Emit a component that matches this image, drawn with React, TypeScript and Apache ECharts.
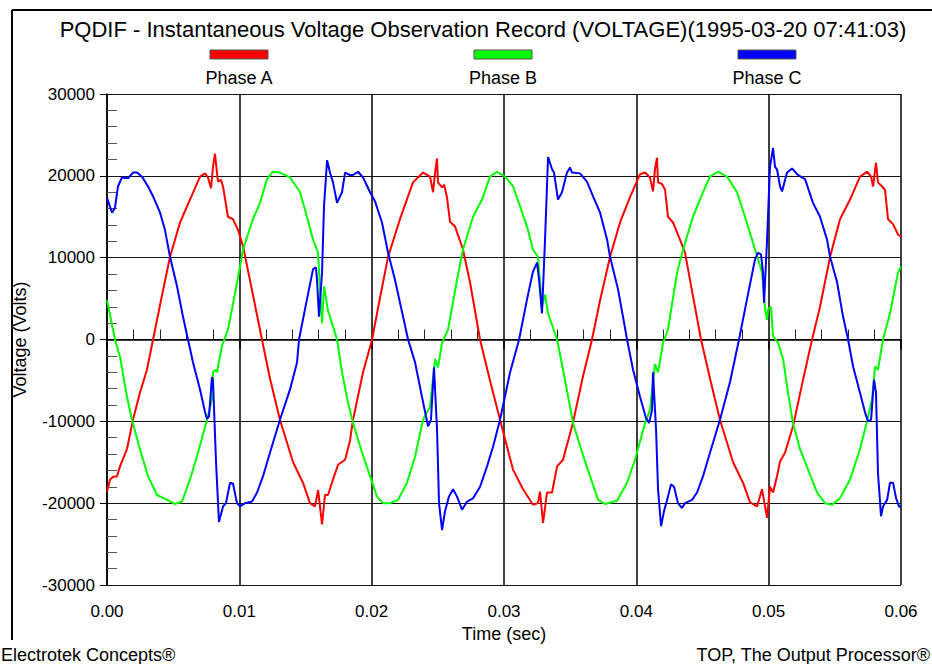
import React, { useEffect, useRef } from "react";
import * as echarts from "echarts";

const titleText = "PQDIF - Instantaneous Voltage Observation Record (VOLTAGE)(1995-03-20 07:41:03)";
const seriesNames = ["Phase A", "Phase B", "Phase C"];
const seriesColors = ["#ff0000", "#00ff00", "#0000ff"];
const xTicks = [0, 0.01, 0.02, 0.03, 0.04, 0.05, 0.06];
const yTicks = [-30000, -20000, -10000, 0, 10000, 20000, 30000];

const phaseA: [number, number][] = [
  [0, -18600], [0.00023, -17100], [0.00045, -16800], [0.00076, -16700], [0.00098, -15500],
  [0.00151, -13400], [0.00196, -9800], [0.00249, -6500], [0.00302, -3700], [0.00348, 0],
  [0.00408, 4800], [0.00476, 10100], [0.00552, 14300], [0.00627, 17100], [0.00703, 19900],
  [0.00741, 20300], [0.00763, 19800], [0.00786, 18500], [0.00801, 21100], [0.00816, 22700],
  [0.00831, 20400], [0.00839, 19300], [0.00861, 19500], [0.00877, 18700], [0.00914, 15000],
  [0.00952, 14700], [0.0099, 13400], [0.01028, 11400], [0.01081, 7200], [0.01171, 0],
  [0.01232, -4800], [0.01307, -9800], [0.01406, -15000], [0.01481, -17500], [0.01534, -20000],
  [0.01572, -20400], [0.01595, -18400], [0.01625, -22600], [0.01647, -19000], [0.0167, -19000],
  [0.01708, -17100], [0.01746, -15300], [0.01799, -14700], [0.01836, -12400], [0.01859, -9800],
  [0.01935, -4000], [0.02003, 0], [0.02063, 5100], [0.02124, 10100], [0.02214, 14700],
  [0.02312, 19200], [0.02388, 20400], [0.02441, 19900], [0.02464, 18000], [0.02479, 20400],
  [0.02494, 22100], [0.02501, 19200], [0.02532, 18600], [0.02547, 18900], [0.02569, 17400],
  [0.02592, 14400], [0.0263, 13800], [0.0269, 11000], [0.02743, 7000], [0.02819, 0],
  [0.02894, -5000], [0.0297, -9800], [0.03068, -15900], [0.03144, -18300], [0.03219, -20200],
  [0.03257, -20000], [0.03272, -18600], [0.03295, -22400], [0.03325, -18700], [0.03363, -18700],
  [0.03401, -15500], [0.03446, -14700], [0.03522, -10100], [0.03597, -4500], [0.03665, 0],
  [0.03726, 4800], [0.03801, 10100], [0.03877, 14300], [0.03952, 17400], [0.04028, 20200],
  [0.04066, 20400], [0.04103, 19800], [0.04126, 18100], [0.04141, 20800], [0.04156, 22200],
  [0.04164, 19200], [0.04194, 19000], [0.04217, 18300], [0.04239, 15000], [0.04277, 14300],
  [0.0433, 12200], [0.04368, 10600], [0.04428, 5300], [0.04489, 0], [0.04557, -4800],
  [0.04632, -9800], [0.04731, -15000], [0.04806, -17500], [0.04859, -19900], [0.04912, -20400],
  [0.0495, -18300], [0.04988, -21800], [0.0501, -18000], [0.05033, -18700], [0.05063, -16700],
  [0.05086, -14900], [0.05124, -13800], [0.05184, -10600], [0.0526, -4900], [0.05328, 0],
  [0.05388, 4000], [0.05464, 10100], [0.05539, 14700], [0.05615, 17100], [0.0569, 19900],
  [0.05743, 20500], [0.05774, 19900], [0.05789, 18700], [0.05811, 21600], [0.05826, 19200],
  [0.05857, 18700], [0.05879, 18300], [0.05902, 14700], [0.0594, 14100], [0.05978, 12800],
  [0.06, 12600],
];

const phaseB: [number, number][] = [
  [0, 4800], [0.00023, 3000], [0.0006, 0], [0.00098, -2100], [0.00151, -7000],
  [0.00189, -9800], [0.00249, -13400], [0.0031, -16700], [0.00378, -19000], [0.00453, -19600],
  [0.00514, -20100], [0.00567, -19800], [0.00627, -17100], [0.00688, -13800], [0.00756, -9800],
  [0.00793, -7300], [0.00801, -4000], [0.00816, -3700], [0.00831, -4000], [0.00869, -800],
  [0.00914, 1200], [0.0096, 5000], [0.01005, 8900], [0.01028, 11000], [0.01103, 14700],
  [0.01156, 16700], [0.01209, 19600], [0.01254, 20500], [0.01307, 20400], [0.01383, 19800],
  [0.01459, 18000], [0.01511, 15000], [0.01557, 12200], [0.01595, 10600], [0.0161, 6000],
  [0.01625, 2000], [0.0164, 6500], [0.0167, 3500], [0.01708, 1600], [0.01738, 0],
  [0.01776, -4000], [0.01821, -7700], [0.01859, -10200], [0.01927, -13800], [0.01988, -16700],
  [0.0204, -19200], [0.02086, -20000], [0.02139, -20000], [0.02199, -19600], [0.02267, -17500],
  [0.02328, -14300], [0.02388, -9800], [0.02441, -8200], [0.02479, -2400], [0.02501, -3400],
  [0.02532, -400], [0.02577, 1200], [0.02645, 7300], [0.0269, 11000], [0.02766, 15000],
  [0.02834, 17100], [0.02894, 19900], [0.02947, 20500], [0.03008, 19900], [0.03068, 18700],
  [0.03121, 16300], [0.03174, 13800], [0.03219, 11000], [0.03257, 10100], [0.03287, 4000],
  [0.0331, 5500], [0.03333, 3200], [0.03401, 0], [0.03446, -3700], [0.03499, -8200],
  [0.03522, -10200], [0.0359, -13800], [0.0365, -16700], [0.03711, -19600], [0.03763, -20100],
  [0.03854, -19700], [0.0393, -17500], [0.0399, -14700], [0.04066, -10200], [0.04103, -8600],
  [0.04141, -3000], [0.04164, -4000], [0.04202, -400], [0.04239, 1200], [0.04308, 8200],
  [0.04353, 11000], [0.04428, 15000], [0.04504, 18000], [0.04557, 19900], [0.04617, 20500],
  [0.04685, 19900], [0.04761, 18000], [0.04821, 15000], [0.04882, 11800], [0.0492, 9800],
  [0.0495, 8200], [0.04973, 3700], [0.04988, 2400], [0.04995, 3700], [0.05018, 4000],
  [0.05033, 400], [0.05071, -400], [0.05109, -2400], [0.05146, -6500], [0.05184, -10200],
  [0.05237, -13400], [0.05298, -15900], [0.05366, -18700], [0.05426, -20000], [0.05479, -20200],
  [0.05539, -19400], [0.05615, -17100], [0.0569, -13400], [0.05743, -10000], [0.05781, -7300],
  [0.05804, -3300], [0.05826, -3700], [0.05864, 0], [0.05917, 3200], [0.05978, 8200],
  [0.06, 8900],
];

const phaseC: [number, number][] = [
  [0, 17300], [0.00038, 15500], [0.0006, 16100], [0.00083, 18700], [0.00113, 19800],
  [0.00159, 19700], [0.00196, 20400], [0.00227, 20400], [0.00264, 19900], [0.0031, 18700],
  [0.00348, 17500], [0.00401, 15500], [0.00438, 13400], [0.00476, 10100], [0.00529, 6500],
  [0.00574, 2800], [0.00612, 0], [0.0065, -2800], [0.00703, -6100], [0.00741, -8900],
  [0.00756, -9700], [0.00771, -9400], [0.00793, -4600], [0.00801, -5000], [0.00824, -15000],
  [0.00846, -22300], [0.00877, -20400], [0.00899, -20000], [0.0093, -17500], [0.00952, -17600],
  [0.00982, -20000], [0.01005, -20400], [0.01043, -20000], [0.01096, -19800], [0.01134, -18700],
  [0.01179, -16700], [0.01232, -13800], [0.01307, -9800], [0.01383, -6100], [0.01436, -2800],
  [0.01451, 0], [0.01511, 4900], [0.01557, 8600], [0.01579, 8800], [0.01587, 7300],
  [0.01602, 2800], [0.01625, 8200], [0.0164, 16300], [0.01663, 21900], [0.01685, 20400],
  [0.01708, 19200], [0.01738, 16700], [0.01776, 18000], [0.01799, 20400], [0.01836, 20100],
  [0.01859, 20100], [0.01897, 20500], [0.01935, 19800], [0.01988, 18000], [0.02025, 16900],
  [0.02078, 14300], [0.02124, 10600], [0.02176, 7300], [0.02237, 2800], [0.02275, 0],
  [0.02328, -2800], [0.0238, -7000], [0.02426, -10600], [0.02448, -9800], [0.02471, -3400],
  [0.02494, -11000], [0.02509, -20000], [0.02532, -23300], [0.02554, -21000], [0.02584, -19200],
  [0.02615, -18300], [0.02645, -19200], [0.02683, -20800], [0.02721, -19800], [0.02766, -19400],
  [0.02819, -18000], [0.02872, -15500], [0.02917, -13100], [0.0297, -9800], [0.03046, -4000],
  [0.03114, 0], [0.03174, 4900], [0.03219, 8300], [0.0325, 9400], [0.03265, 7300],
  [0.03287, 3200], [0.0331, 12200], [0.03333, 22300], [0.03363, 20800], [0.03378, 20400],
  [0.03408, 17100], [0.03438, 18000], [0.03476, 20400], [0.03499, 21000], [0.03514, 20400],
  [0.03574, 20300], [0.03627, 19300], [0.03673, 17500], [0.03726, 15500], [0.03779, 12200],
  [0.03801, 10100], [0.03862, 6100], [0.03899, 2800], [0.0393, 0], [0.03975, -3700],
  [0.04028, -7000], [0.04073, -9600], [0.04096, -10200], [0.04119, -8600], [0.04126, -4000],
  [0.04149, -11000], [0.04164, -18300], [0.04187, -22800], [0.04209, -21000], [0.04239, -19200],
  [0.04262, -17700], [0.04285, -18000], [0.04315, -20000], [0.04345, -20600], [0.04368, -20000],
  [0.04421, -19600], [0.04459, -18700], [0.04504, -16700], [0.04557, -13800], [0.04632, -9800],
  [0.04708, -5200], [0.04776, 0], [0.04836, 4900], [0.04897, 9800], [0.0492, 10600],
  [0.04942, 10400], [0.04957, 8200], [0.04965, 4500], [0.04988, 12200], [0.0501, 21100],
  [0.05033, 23400], [0.05048, 21100], [0.05063, 20800], [0.05086, 18700], [0.05101, 18100],
  [0.05139, 20400], [0.05177, 20900], [0.05214, 20200], [0.05252, 19800], [0.05275, 19600],
  [0.05335, 16700], [0.05388, 15000], [0.05441, 12200], [0.05464, 10100], [0.05517, 7000],
  [0.05562, 2800], [0.056, 0], [0.05638, -3300], [0.0569, -6500], [0.05728, -8900],
  [0.05751, -10000], [0.05774, -9800], [0.05796, -4900], [0.05811, -6500], [0.05826, -16300],
  [0.05849, -21600], [0.05864, -20400], [0.05895, -19600], [0.05917, -17500], [0.0594, -17500],
  [0.05963, -19400], [0.05985, -20400], [0.06, -20500],
];

const FONT = "'Liberation Sans', Arial, sans-serif";

export default function App() {
  const ref = useRef<HTMLDivElement>(null);

  useEffect(() => {
    if (!ref.current) return;
    const chart = echarts.init(ref.current, null, { renderer: "svg" });
    const xMin = xTicks[0];
    const xMax = xTicks[xTicks.length - 1];
    const yMin = yTicks[0];
    const yMax = yTicks[yTicks.length - 1];
    const legendX = [239, 503, 767];
    const allData = [phaseA, phaseB, phaseC];

    const legendGraphics: any[] = [];
    seriesNames.forEach((name, i) => {
      legendGraphics.push({
        type: "rect",
        shape: { x: legendX[i] - 29, y: 50, width: 58, height: 9 },
        style: { fill: seriesColors[i], stroke: "#555", lineWidth: 1 },
      });
      legendGraphics.push({
        type: "text",
        style: {
          text: name, x: legendX[i], y: 78, fill: "#000",
          font: `18px ${FONT}`, align: "center", verticalAlign: "middle",
          textAlign: "center", textVerticalAlign: "middle",
        },
      });
    });

    const option: any = {
      animation: false,
      backgroundColor: "#fff",
      title: {
        text: titleText,
        left: 478,
        top: 13,
        textAlign: "center",
        textStyle: { fontFamily: FONT, fontSize: 22, fontWeight: "normal", color: "#000" },
      },
      grid: { left: 107, right: 31, top: 94, bottom: 79 },
      xAxis: [
        {
          type: "value", min: xMin, max: xMax, interval: 0.01,
          name: "Time (sec)", nameLocation: "middle", nameGap: 40,
          nameTextStyle: { fontFamily: FONT, fontSize: 18, color: "#000" },
          axisLine: { show: true, lineStyle: { color: "#000", width: 1.5 } },
          axisTick: { show: true, inside: false, length: 10, lineStyle: { color: "#000", width: 1.5 } },
          axisLabel: { fontFamily: FONT, fontSize: 17, color: "#000", margin: 18, formatter: (v: number) => v.toFixed(2) },
          splitLine: { show: true, lineStyle: { color: "#000", width: 1.5 } },
        },
        {
          type: "value", min: xMin, max: xMax, interval: 0.01, position: "bottom",
          axisLine: { show: false },
          axisTick: { show: false, inside: true },
          axisLabel: { show: false },
          splitLine: { show: false },
          minorTick: { show: true, splitNumber: 5, length: 10, lineStyle: { color: "#222", width: 1 } },
        },
      ],
      yAxis: [
        {
          type: "value", min: yMin, max: yMax, interval: 10000,
          name: "Voltage (Volts)", nameLocation: "middle", nameRotate: 90, nameGap: 78,
          nameTextStyle: { fontFamily: FONT, fontSize: 18, color: "#000" },
          axisLine: { show: true, lineStyle: { color: "#000", width: 1.5 } },
          axisTick: { show: true, inside: false, length: 7, lineStyle: { color: "#000", width: 1 } },
          axisLabel: { fontFamily: FONT, fontSize: 17, color: "#000", margin: 12, formatter: (v: number) => String(v) },
          splitLine: { show: true, lineStyle: { color: "#111", width: 1.2 } },
        },
        {
          type: "value", min: yMin, max: yMax, interval: 10000, position: "left",
          axisLine: { show: false },
          axisTick: { show: false, inside: true },
          axisLabel: { show: false },
          splitLine: { show: false },
          minorTick: { show: true, splitNumber: 5, length: 10, lineStyle: { color: "#555", width: 1 } },
        },
      ],
      series: seriesNames.map((name, i) => ({
        name,
        type: "line",
        xAxisIndex: 0,
        yAxisIndex: 0,
        data: allData[i],
        showSymbol: false,
        symbol: "none",
        lineStyle: { color: seriesColors[i], width: 2 },
        itemStyle: { color: seriesColors[i] },
        z: 3 + i,
      })),
      graphic: [
        { type: "line", shape: { x1: 12, y1: 10, x2: 932, y2: 10 }, style: { stroke: "#000", lineWidth: 2 } },
        { type: "line", shape: { x1: 12, y1: 10, x2: 12, y2: 640 }, style: { stroke: "#000", lineWidth: 2 } },
        ...legendGraphics,
        {
          type: "text",
          style: {
            text: "Electrotek Concepts®", x: 1, y: 655, fill: "#000", font: `18px ${FONT}`,
            align: "left", verticalAlign: "middle", textAlign: "left", textVerticalAlign: "middle",
          },
        },
        {
          type: "text",
          style: {
            text: "TOP, The Output Processor®", x: 930, y: 655, fill: "#000", font: `18px ${FONT}`,
            align: "right", verticalAlign: "middle", textAlign: "right", textVerticalAlign: "middle",
          },
        },
      ],
    };
    chart.setOption(option);
    return () => chart.dispose();
  }, []);

  return <div ref={ref} style={{ position: "fixed", left: 0, top: 0, width: 932, height: 664 }} />;
}
